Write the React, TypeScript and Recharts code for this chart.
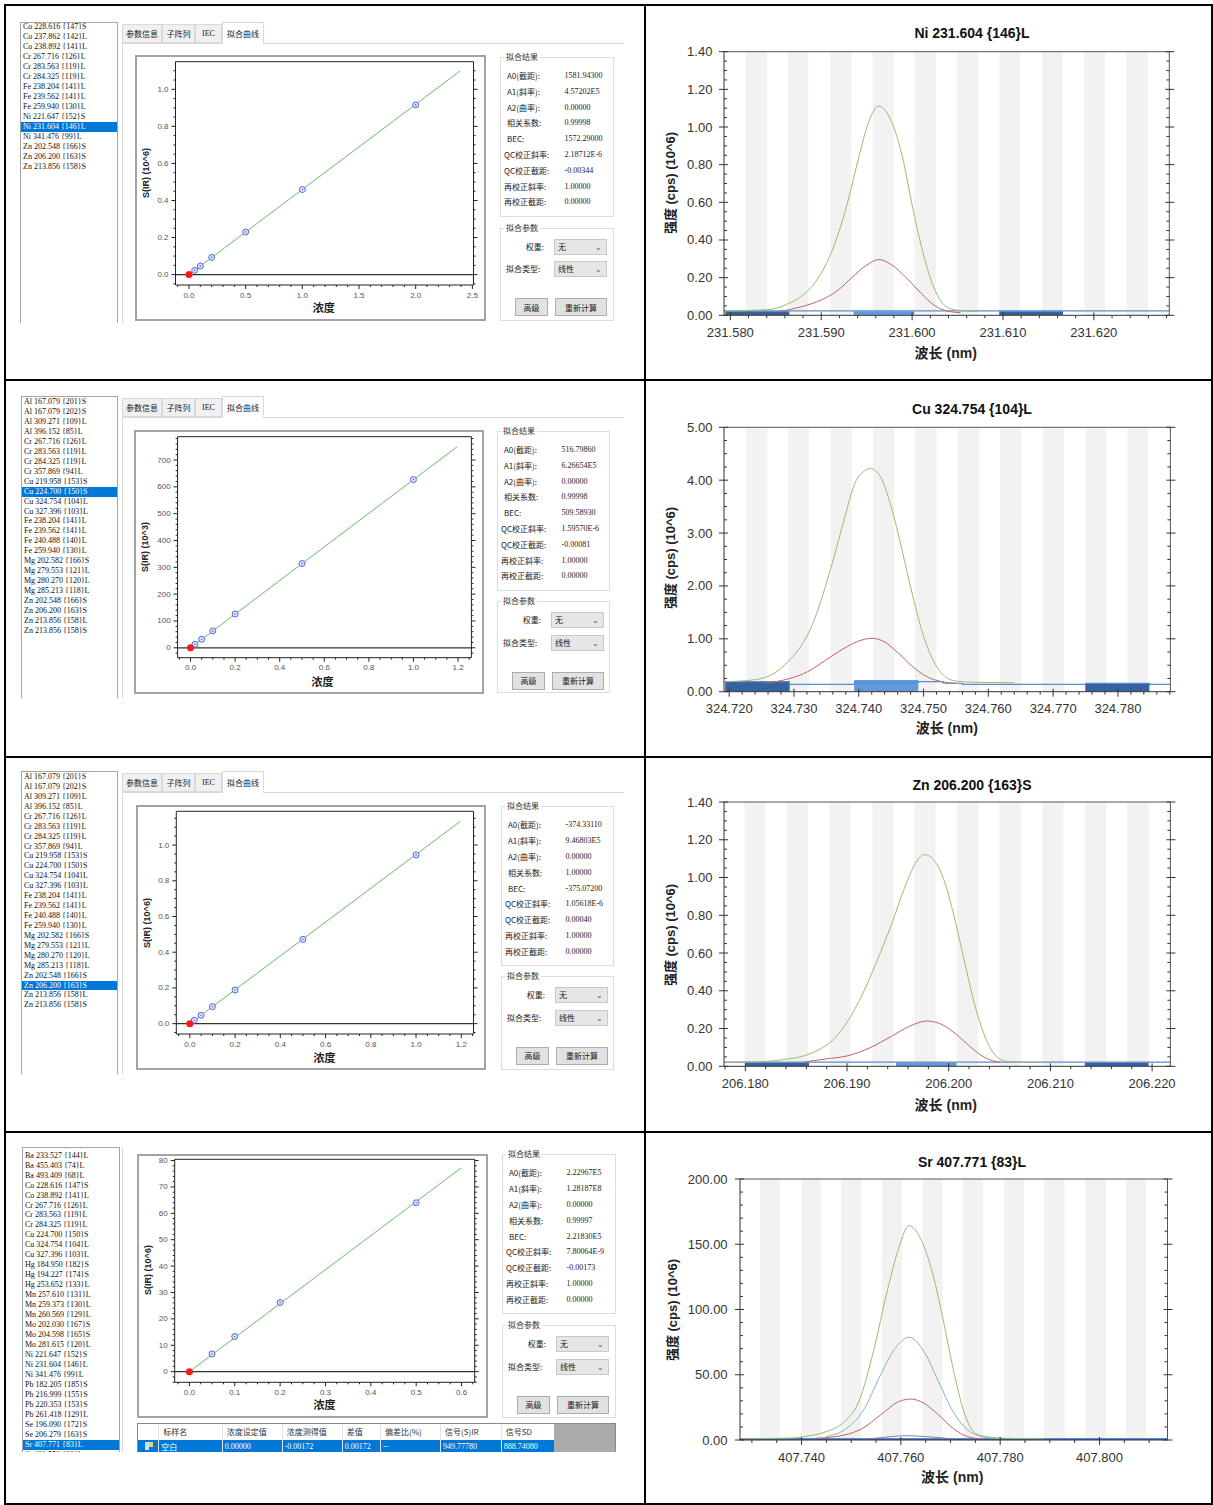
import React from 'react'
import {
    Line,
    LineChart,
    ReferenceArea,
    ReferenceLine,
    Scatter,
    ScatterChart,
    XAxis,
    YAxis
} from 'recharts'

const SANS = '"Liberation Sans", Arial, "Noto Sans CJK SC", sans-serif'
const SERIF = '"Liberation Serif", "Times New Roman", "Noto Sans CJK SC", serif'
const CJK = '"Noto Sans CJK SC", "Liberation Sans", sans-serif'

// ---------- element lists (left list boxes) ----------
const niList = [
    'Co 228.616 {147}S', 'Co 237.862 {142}L', 'Co 238.892 {141}L', 'Cr 267.716 {126}L',
    'Cr 283.563 {119}L', 'Cr 284.325 {119}L', 'Fe 238.204 {141}L', 'Fe 239.562 {141}L',
    'Fe 259.940 {130}L', 'Ni 221.647 {152}S', 'Ni 231.604 {146}L', 'Ni 341.476 {99}L',
    'Zn 202.548 {166}S', 'Zn 206.200 {163}S', 'Zn 213.856 {158}S'
]
const alList = [
    'Al 167.079 {201}S', 'Al 167.079 {202}S', 'Al 309.271 {109}L', 'Al 396.152 {85}L',
    'Cr 267.716 {126}L', 'Cr 283.563 {119}L', 'Cr 284.325 {119}L', 'Cr 357.869 {94}L',
    'Cu 219.958 {153}S', 'Cu 224.700 {150}S', 'Cu 324.754 {104}L', 'Cu 327.396 {103}L',
    'Fe 238.204 {141}L', 'Fe 239.562 {141}L', 'Fe 240.488 {140}L', 'Fe 259.940 {130}L',
    'Mg 202.582 {166}S', 'Mg 279.553 {121}L', 'Mg 280.270 {120}L', 'Mg 285.213 {118}L',
    'Zn 202.548 {166}S', 'Zn 206.200 {163}S', 'Zn 213.856 {158}L', 'Zn 213.856 {158}S'
]
const srList = [
    'Ba 230.424 {146}L', 'Ba 233.527 {144}L', 'Ba 455.403 {74}L', 'Ba 493.409 {68}L',
    'Co 228.616 {147}S', 'Co 238.892 {141}L', 'Cr 267.716 {126}L', 'Cr 283.563 {119}L',
    'Cr 284.325 {119}L', 'Cu 224.700 {150}S', 'Cu 324.754 {104}L', 'Cu 327.396 {103}L',
    'Hg 184.950 {182}S', 'Hg 194.227 {174}S', 'Hg 253.652 {133}L', 'Mn 257.610 {131}L',
    'Mn 259.373 {130}L', 'Mn 260.569 {129}L', 'Mo 202.030 {167}S', 'Mo 204.598 {165}S',
    'Mo 281.615 {120}L', 'Ni 221.647 {152}S', 'Ni 231.604 {146}L', 'Ni 341.476 {99}L',
    'Pb 182.205 {185}S', 'Pb 216.999 {155}S', 'Pb 220.353 {153}S', 'Pb 261.418 {129}L',
    'Se 196.090 {172}S', 'Se 206.279 {163}S', 'Sr 407.771 {83}L', 'Sr 421.552 {80}L'
]

// ---------- fit results ----------
const resultLabels = ['A0(截距):', 'A1(斜率):', 'A2(曲率):', '相关系数:', 'BEC:', 'QC校正斜率:', 'QC校正截距:', '再校正斜率:', '再校正截距:']
const niResults = ['1581.94300', '4.57202E5', '0.00000', '0.99998', '1572.29000', '2.18712E-6', '-0.00344', '1.00000', '0.00000']
const cuResults = ['516.79860', '6.26654E5', '0.00000', '0.99998', '509.58930', '1.59570E-6', '-0.00081', '1.00000', '0.00000']
const znResults = ['-374.33110', '9.46803E5', '0.00000', '1.00000', '-375.07200', '1.05618E-6', '0.00040', '1.00000', '0.00000']
const srResults = ['2.22967E5', '1.28187E8', '0.00000', '0.99997', '2.21830E5', '7.80064E-9', '-0.00173', '1.00000', '0.00000']

const tabNames = ['参数信息', '子阵列', 'IEC', '拟合曲线']
const tableHeaders = ['', '标样名', '浓度设定值', '浓度测得值', '差值', '偏差比(%)', '信号(S)IR', '信号SD']
const tableRow = ['', '空白', '0.00000', '-0.00172', '0.00172', '--', '949.77780', '888.74080']

// ---------- calibration curves [conc, signal] ----------
const niStd = [[0.05, 0.023], [0.1, 0.046], [0.2, 0.093], [0.5, 0.23], [1.0, 0.459], [2.0, 0.916]]
const niBlank = [[0, 0.0]]
const niFit = [[0, 0.0], [2.392, 1.099]]
const niCalX = [0, 0.5, 1.0, 1.5, 2.0, 2.5]
const niCalY = [0, 0.2, 0.4, 0.6, 0.8, 1.0]

const cuStd = [[0.02, 13], [0.05, 32], [0.1, 63], [0.2, 126], [0.5, 314], [1.0, 627]]
const cuBlank = [[0, 0]]
const cuFit = [[0, 0], [1.195, 749]]
const cuCalX = [0, 0.2, 0.4, 0.6, 0.8, 1.0, 1.2]
const cuCalY = [0, 100, 200, 300, 400, 500, 600, 700]

const znStd = [[0.02, 0.019], [0.05, 0.047], [0.1, 0.095], [0.2, 0.188], [0.5, 0.472], [1.0, 0.945]]
const znBlank = [[0, 0.0]]
const znFit = [[0, 0.0], [1.196, 1.133]]
const znCalX = [0, 0.2, 0.4, 0.6, 0.8, 1.0, 1.2]
const znCalY = [0, 0.2, 0.4, 0.6, 0.8, 1.0]

const srStd = [[0.05, 6.7], [0.1, 13.3], [0.2, 26.2], [0.5, 64.0]]
const srBlank = [[0, 0]]
const srFit = [[0, 0], [0.599, 77.2]]
const srCalX = [0, 0.1, 0.2, 0.3, 0.4, 0.5, 0.6]
const srCalY = [0, 10, 20, 30, 40, 50, 60, 70, 80]

// ---------- spectra [wavelength, intensity] ----------
const niGreen = [
    [231.57949, 0.023], [231.5842, 0.03], [231.58619, 0.058], [231.58778, 0.1], [231.58937, 0.177],
    [231.59057, 0.275], [231.59176, 0.416], [231.59296, 0.611], [231.59415, 0.842], [231.59515, 1.019],
    [231.59634, 1.111], [231.59774, 1.028], [231.59893, 0.842], [231.60012, 0.558], [231.60132, 0.31],
    [231.60252, 0.133], [231.60371, 0.048], [231.6049, 0.027], [231.60729, 0.021]
]
const niRed = [
    [231.5854, 0.02], [231.58778, 0.045], [231.59017, 0.085], [231.59176, 0.13], [231.59336, 0.2],
    [231.59495, 0.265], [231.59634, 0.296], [231.59774, 0.268], [231.59934, 0.2], [231.60093, 0.12],
    [231.60252, 0.05], [231.60411, 0.02], [231.60531, 0.014]
]
const niBands = [
    [231.58169, 231.58403], [231.58631, 231.58857], [231.591, 231.59332], [231.59566, 231.59798],
    [231.60024, 231.60263], [231.60495, 231.60729], [231.60959, 231.61191], [231.6143, 231.61657],
    [231.61896, 231.62122], [231.62357, 231.62597]
]
const niDarkBlocks = [[231.57944, 231.58648, 0.022], [231.60959, 231.6166, 0.022]]
const niLightBlocks = [[231.59356, 231.60024, 0.022]]
const niBase = [[231.5793, 0.024], [231.6283, 0.024]]
const niSpecX = [231.58, 231.59, 231.6, 231.61, 231.62]
const niSpecY = [0, 0.2, 0.4, 0.6, 0.8, 1.0, 1.2, 1.4]

const cuGreen = [
    [324.71938, 0.19], [324.72262, 0.21], [324.72543, 0.265], [324.72767, 0.41], [324.72934, 0.6],
    [324.73102, 0.85], [324.7327, 1.23], [324.73437, 1.8], [324.73605, 2.49], [324.73773, 3.25],
    [324.7394, 3.94], [324.74108, 4.19], [324.74181, 4.22], [324.74332, 4.07], [324.745, 3.5],
    [324.74667, 2.68], [324.74835, 1.8], [324.75003, 1.04], [324.75171, 0.54], [324.75338, 0.28],
    [324.75506, 0.2], [324.7573, 0.18], [324.76401, 0.17]
]
const cuRed = [
    [324.72543, 0.16], [324.72934, 0.25], [324.73213, 0.38], [324.73494, 0.6], [324.73773, 0.82],
    [324.74052, 0.98], [324.74208, 1.01], [324.74387, 0.95], [324.74611, 0.73], [324.74835, 0.47],
    [324.75059, 0.28], [324.75282, 0.19], [324.75506, 0.16]
]
const cuBands = [
    [324.72262, 324.72588], [324.72912, 324.7323], [324.73566, 324.7389], [324.74221, 324.74545],
    [324.74869, 324.75199], [324.75528, 324.75858], [324.76182, 324.76506], [324.76843, 324.77167],
    [324.77497, 324.77821], [324.78145, 324.78469]
]
const cuDarkBlocks = [[324.71938, 324.72934, 0.19], [324.77497, 324.78486, 0.16]]
const cuLightBlocks = [[324.73929, 324.74918, 0.22]]
const cuBase = [
    [324.7192, 0.19], [324.7293, 0.14], [324.7393, 0.17], [324.7492, 0.19], [324.753, 0.16],
    [324.756, 0.14], [324.775, 0.16], [324.7849, 0.14], [324.7881, 0.14]
]
const cuSpecX = [324.72, 324.73, 324.74, 324.75, 324.76, 324.77, 324.78]
const cuSpecY = [0, 1, 2, 3, 4, 5]

const znGreen = [
    [206.17803, 0.021], [206.18082, 0.023], [206.18367, 0.035], [206.1858, 0.056], [206.18723, 0.088],
    [206.18865, 0.141], [206.19008, 0.24], [206.1915, 0.38], [206.19293, 0.556], [206.19436, 0.75],
    [206.19578, 0.962], [206.19684, 1.086], [206.19763, 1.121], [206.19863, 1.086], [206.19934, 1.015],
    [206.20041, 0.82], [206.20147, 0.574], [206.20255, 0.327], [206.20362, 0.15], [206.20468, 0.053],
    [206.20575, 0.026], [206.20718, 0.021], [206.20932, 0.021]
]
const znRed = [
    [206.1858, 0.023], [206.18794, 0.039], [206.19008, 0.056], [206.19221, 0.097], [206.19436, 0.159],
    [206.19614, 0.212], [206.19785, 0.24], [206.19934, 0.221], [206.20077, 0.168], [206.20219, 0.1],
    [206.20362, 0.044], [206.20504, 0.021]
]
const znBands = [
    [206.17992, 206.182], [206.18409, 206.18616], [206.1883, 206.19036], [206.1925, 206.19457],
    [206.1966, 206.1987], [206.20081, 206.2029], [206.20497, 206.20707], [206.20917, 206.21128],
    [206.21338, 206.21548], [206.21754, 206.21965]
]
const znDarkBlocks = [[206.18, 206.18626, 0.02], [206.21338, 206.21965, 0.02]]
const znLightBlocks = [[206.19482, 206.20077, 0.02]]
const znBase = [[206.1779, 0.022], [206.2218, 0.022]]
const znSpecX = [206.18, 206.19, 206.2, 206.21, 206.22]
const znSpecY = [0, 0.2, 0.4, 0.6, 0.8, 1.0, 1.2, 1.4]

const srGreen = [
    [407.72781, 1.0], [407.73766, 1.5], [407.74131, 3.1], [407.74497, 6.4], [407.74862, 14.0],
    [407.75154, 29.4], [407.75446, 67.7], [407.75738, 116.2], [407.75956, 146.9], [407.76161, 164.2],
    [407.76395, 154.5], [407.76612, 131.5], [407.76832, 95.8], [407.77051, 54.9], [407.77269, 21.7],
    [407.77488, 5.6], [407.77708, 2.6], [407.78145, 1.3], [407.78876, 1.0]
]
const srTeal = [
    [407.74497, 2.6], [407.74862, 7.7], [407.75227, 21.7], [407.75591, 49.8], [407.75883, 70.2],
    [407.76161, 78.7], [407.76467, 67.7], [407.76759, 44.7], [407.77051, 21.7], [407.77343, 7.7],
    [407.77636, 2.6], [407.78, 1.0]
]
const srRed = [
    [407.74278, 1.3], [407.74862, 3.8], [407.75227, 8.9], [407.75591, 19.2], [407.75956, 29.4],
    [407.76197, 31.4], [407.76467, 28.1], [407.76759, 19.2], [407.77051, 8.9], [407.77343, 2.6],
    [407.77636, 0.8]
]
const srPurple = [[407.75227, 0.5], [407.75591, 1.8], [407.76103, 3.3], [407.76612, 2.3], [407.77051, 0.8]]
const srBands = [
    [407.73162, 407.73569], [407.73994, 407.74387], [407.74796, 407.75196], [407.75621, 407.76022],
    [407.76437, 407.7684], [407.77255, 407.77656], [407.78081, 407.78481], [407.78882, 407.79299],
    [407.79714, 407.80131], [407.80532, 407.80941]
]
const srDarkBlocks = [[407.7276, 407.8137, 1.2]]
const srLightBlocks: number[][] = []
const srBase = [[407.7276, 1.0], [407.8137, 1.0]]
const srSpecX = [407.74, 407.76, 407.78, 407.8]
const srSpecY = [0, 50, 100, 150, 200]

// ---------- helpers ----------
type Pt = { x: number; y: number }
const toPts = (rows: number[][]): Pt[] => rows.map(([x, y]) => ({ x, y }))

const withMinors = (majors: number[], div: number, lo: number, hi: number) => {
    const step = (majors[1] - majors[0]) / div
    const out: number[] = []
    const a = Math.ceil((lo - majors[0]) / step - 1e-6)
    const b = Math.floor((hi - majors[0]) / step + 1e-6)
    for (let i = a; i <= b; i++) out.push(+(majors[0] + i * step).toFixed(6))
    return out
}

type Side = 'left' | 'right' | 'top' | 'bottom'
interface TickLook {
    majOut: number
    majIn: number
    minOut: number
    minIn: number
    gap: number
    size: number
    color: string
    stroke: string
}

const makeTick = (side: Side, majors: number[], look: TickLook, fmt?: (v: number) => string) =>
    function AxisTick(props: any) {
        const { x, y, payload } = props
        const v = Number(payload.value)
        const major = majors.some((m) => Math.abs(m - v) < 1e-6)
        const o = major ? look.majOut : look.minOut
        const n = major ? look.majIn : look.minIn
        const seg =
            side === 'left'
                ? [x - o, y, x + n, y]
                : side === 'right'
                  ? [x + o, y, x - n, y]
                  : side === 'top'
                    ? [x, y - o, x, y + n]
                    : [x, y + o, x, y - n]
        return (
            <g>
                <line x1={seg[0]} y1={seg[1]} x2={seg[2]} y2={seg[3]} stroke={look.stroke} strokeWidth={1} />
                {major && fmt && side === 'left' && (
                    <text x={x - look.gap} y={y} textAnchor={'end'} dominantBaseline={'central'} fontSize={look.size} fill={look.color} fontFamily={SANS}>
                        {fmt(v)}
                    </text>
                )}
                {major && fmt && side === 'bottom' && (
                    <text x={x} y={y + look.gap} textAnchor={'middle'} dominantBaseline={'central'} fontSize={look.size} fill={look.color} fontFamily={SANS}>
                        {fmt(v)}
                    </text>
                )}
            </g>
        )
    }

const Txt: React.FC<{
    x: number
    y: number
    size: number
    weight?: number
    family?: string
    color?: string
    anchor?: 'start' | 'middle' | 'end'
    rotate?: boolean
    children: React.ReactNode
}> = ({ x, y, size, weight = 400, family = SANS, color = '#222', anchor = 'middle', rotate = false, children }) => (
    <div
        style={{
            position: 'absolute',
            left: x,
            top: y,
            transform: `translate(${anchor === 'middle' ? '-50%' : anchor === 'end' ? '-100%' : '0'}, -50%)${rotate ? ' rotate(-90deg)' : ''}`,
            fontSize: size,
            fontWeight: weight,
            fontFamily: family,
            color,
            whiteSpace: 'nowrap',
            lineHeight: 1
        }}
    >
        {children}
    </div>
)

const Box: React.FC<{ l: number; t: number; w: number; h: number; bg: string }> = ({ l, t, w, h, bg }) => (
    <div style={{ position: 'absolute', left: l, top: t, width: w, height: h, background: bg }} />
)

// ---------- spectrum chart ----------
interface SpecCfg {
    top: number
    h: number
    title: string
    titleY: number
    plot: { l: number; t: number; r: number; b: number }
    xDomain: [number, number]
    xMajors: number[]
    xDiv: number
    xDec: number
    yDomain: [number, number]
    yMajors: number[]
    yDiv: number
    curves: { data: number[][]; color: string }[]
    bands: number[][]
    dark: number[][]
    light: number[][]
    base: number[][]
    yTitleX: number
    yTitleY: number
    xTitleX: number
    xTitleY: number
    yGap: number
}

const GREEN = '#9dbb6e'
const RED = '#c46462'
const TEAL = '#86b3c2'
const PURPLE = '#8c7fa6'

const specY: TickLook = { majOut: 5, majIn: 4, minOut: 0, minIn: 3, gap: 12, size: 13, color: '#333', stroke: '#333' }
const specX: TickLook = { majOut: 5, majIn: 3, minOut: 3, minIn: 0, gap: 17, size: 13, color: '#333', stroke: '#333' }

const SpecChart: React.FC<{ c: SpecCfg }> = ({ c }) => {
    const boxL = 646
    const boxW = 566
    const YL = 30
    const YR = 6
    const XB = 24
    const XT = 6
    const margin = {
        left: c.plot.l - boxL - YL,
        right: boxL + boxW - c.plot.r - YR,
        top: c.plot.t - c.top - XT,
        bottom: c.top + c.h - c.plot.b - XB
    }
    const xTicks = withMinors(c.xMajors, c.xDiv, c.xDomain[0], c.xDomain[1])
    const yTicks = withMinors(c.yMajors, c.yDiv, c.yDomain[0], c.yDomain[1])
    const look = { ...specY, gap: c.yGap }
    return (
        <>
            <div style={{ position: 'absolute', left: boxL, top: c.top }}>
                <LineChart width={boxW} height={c.h} margin={margin}>
                    <XAxis xAxisId={'b'} dataKey={'x'} type={'number'} domain={c.xDomain} allowDataOverflow ticks={xTicks} interval={0}
                        height={XB} tickSize={0} tickMargin={0} tickLine={false} axisLine={{ stroke: '#333' }}
                        tick={makeTick('bottom', c.xMajors, specX, (v) => v.toFixed(c.xDec))} />
                    <XAxis xAxisId={'t'} orientation={'top'} type={'number'} domain={c.xDomain} allowDataOverflow ticks={xTicks} interval={0}
                        height={XT} tickSize={0} tickMargin={0} tickLine={false} axisLine={{ stroke: '#555' }}
                        tick={makeTick('top', c.xMajors, { ...specX, minOut: 0, minIn: 3 })} />
                    <YAxis yAxisId={'l'} dataKey={'y'} type={'number'} domain={c.yDomain} allowDataOverflow ticks={yTicks} interval={0}
                        width={YL} tickSize={0} tickMargin={0} tickLine={false} axisLine={{ stroke: '#333' }}
                        tick={makeTick('left', c.yMajors, look, (v) => v.toFixed(2))} />
                    <YAxis yAxisId={'r'} orientation={'right'} type={'number'} domain={c.yDomain} allowDataOverflow ticks={yTicks} interval={0}
                        width={YR} tickSize={0} tickMargin={0} tickLine={false} axisLine={{ stroke: '#555' }}
                        tick={makeTick('right', c.yMajors, look)} />
                    {c.bands.map(([a, b], i) => (
                        <ReferenceArea key={`band-${i}`} xAxisId={'b'} yAxisId={'l'} x1={a} x2={b} fill={'#f2f2f2'} fillOpacity={1} stroke={'none'} ifOverflow={'hidden'} />
                    ))}
                    {c.dark.map(([a, b, h], i) => (
                        <ReferenceArea key={`dark-${i}`} xAxisId={'b'} yAxisId={'l'} x1={a} x2={b} y1={0} y2={h} fill={'#36629f'} fillOpacity={1} stroke={'none'} ifOverflow={'hidden'} />
                    ))}
                    {c.light.map(([a, b, h], i) => (
                        <ReferenceArea key={`light-${i}`} xAxisId={'b'} yAxisId={'l'} x1={a} x2={b} y1={0} y2={h} fill={'#6199dc'} fillOpacity={1} stroke={'none'} ifOverflow={'hidden'} />
                    ))}
                    <Line xAxisId={'b'} yAxisId={'l'} data={toPts(c.base)} dataKey={'y'} type={'stepAfter'} stroke={'#5a8bd0'} strokeWidth={1.2} dot={false} isAnimationActive={false} />
                    {c.curves.map((cv, i) => (
                        <Line key={`curve-${i}`} xAxisId={'b'} yAxisId={'l'} data={toPts(cv.data)} dataKey={'y'} type={'monotone'} stroke={cv.color} strokeWidth={1} dot={false} isAnimationActive={false} />
                    ))}
                </LineChart>
            </div>
            <Txt x={972} y={c.titleY} size={14} weight={700} color={'#111'}>{c.title}</Txt>
            <Txt x={c.yTitleX} y={c.yTitleY} size={13} weight={700} color={'#222'} rotate>强度 (cps) (10^6)</Txt>
            <Txt x={c.xTitleX} y={c.xTitleY} size={14} weight={700} color={'#222'}>波长 (nm)</Txt>
        </>
    )
}

// ---------- calibration chart ----------
interface CalCfg {
    frame: { l: number; t: number; w: number; h: number }
    plot: { l: number; t: number; r: number; b: number }
    xDomain: [number, number]
    yDomain: [number, number]
    xMajors: number[]
    xDiv: number
    yMajors: number[]
    yDiv: number
    yDec: number
    std: number[][]
    blank: number[][]
    fit: number[][]
    yTitle: string
    yTitlePos: [number, number]
    xTitlePos: [number, number]
}

const calLook: TickLook = { majOut: 4, majIn: 0, minOut: 2, minIn: 0, gap: 7, size: 8, color: '#555', stroke: '#222' }

const HollowDot = (p: any) => (
    <g>
        <circle cx={p.cx} cy={p.cy} r={3} fill={'#dde2ff'} stroke={'#5466e6'} strokeWidth={1} />
        <circle cx={p.cx} cy={p.cy} r={0.8} fill={'#5466e6'} />
    </g>
)
const RedDot = (p: any) => <circle cx={p.cx} cy={p.cy} r={3.5} fill={'#ff1a1a'} />

const CalChart: React.FC<{ c: CalCfg }> = ({ c }) => {
    const il = c.frame.l + 2
    const it = c.frame.t + 2
    const iw = c.frame.w - 4
    const ih = c.frame.h - 4
    const YL = 20
    const YR = 2
    const XB = 8
    const XT = 2
    const margin = {
        left: c.plot.l - il - YL,
        right: il + iw - c.plot.r - YR,
        top: c.plot.t - it - XT,
        bottom: it + ih - c.plot.b - XB
    }
    const xTicks = withMinors(c.xMajors, c.xDiv, c.xDomain[0], c.xDomain[1])
    const yTicks = withMinors(c.yMajors, c.yDiv, c.yDomain[0], c.yDomain[1])
    return (
        <>
            <div
                style={{
                    position: 'absolute',
                    left: c.frame.l,
                    top: c.frame.t,
                    width: c.frame.w,
                    height: c.frame.h,
                    border: '2px solid #a3a3a3',
                    boxSizing: 'border-box',
                    background: '#fff'
                }}
            >
                <ScatterChart width={iw} height={ih} margin={margin}>
                    <XAxis xAxisId={'b'} dataKey={'x'} type={'number'} domain={c.xDomain} allowDataOverflow ticks={xTicks} interval={0}
                        height={XB} tickSize={0} tickMargin={0} tickLine={false} axisLine={{ stroke: '#222' }}
                        tick={makeTick('bottom', c.xMajors, { ...calLook, gap: 10 }, (v) => v.toFixed(1))} />
                    <XAxis xAxisId={'t'} orientation={'top'} type={'number'} domain={c.xDomain} allowDataOverflow ticks={xTicks} interval={0}
                        height={XT} tickSize={0} tickMargin={0} tickLine={false} axisLine={{ stroke: '#222' }}
                        tick={makeTick('top', c.xMajors, calLook)} />
                    <YAxis yAxisId={'l'} dataKey={'y'} type={'number'} domain={c.yDomain} allowDataOverflow ticks={yTicks} interval={0}
                        width={YL} tickSize={0} tickMargin={0} tickLine={false} axisLine={{ stroke: '#222' }}
                        tick={makeTick('left', c.yMajors, calLook, (v) => v.toFixed(c.yDec))} />
                    <YAxis yAxisId={'r'} orientation={'right'} type={'number'} domain={c.yDomain} allowDataOverflow ticks={yTicks} interval={0}
                        width={YR} tickSize={0} tickMargin={0} tickLine={false} axisLine={{ stroke: '#222' }}
                        tick={makeTick('right', c.yMajors, calLook)} />
                    <ReferenceLine xAxisId={'b'} yAxisId={'l'} y={0} stroke={'#333'} strokeWidth={1.2} />
                    <Scatter xAxisId={'b'} yAxisId={'l'} data={toPts(c.fit)} line={{ stroke: '#66bb66', strokeWidth: 1 }} shape={() => <g />} isAnimationActive={false} />
                    <Scatter xAxisId={'b'} yAxisId={'l'} data={toPts(c.std)} shape={HollowDot} isAnimationActive={false} />
                    <Scatter xAxisId={'b'} yAxisId={'l'} data={toPts(c.blank)} shape={RedDot} isAnimationActive={false} />
                </ScatterChart>
            </div>
            <Txt x={c.yTitlePos[0]} y={c.yTitlePos[1]} size={9} weight={700} color={'#222'} rotate>{c.yTitle}</Txt>
            <Txt x={c.xTitlePos[0]} y={c.xTitlePos[1]} size={11} weight={700} family={CJK} color={'#222'}>浓度</Txt>
        </>
    )
}

// ---------- software UI pieces ----------
const ListBox: React.FC<{ l: number; t: number; w: number; h: number; items: string[]; sel: number; first: number; step: number }> = ({ l, t, w, h, items, sel, first, step }) => (
    <div
        style={{
            position: 'absolute',
            left: l,
            top: t,
            width: w,
            height: h,
            borderLeft: '1px solid #a5a5a5',
            borderTop: '1px solid #a5a5a5',
            borderRight: '1px solid #a5a5a5',
            boxSizing: 'border-box',
            overflow: 'hidden',
            background: '#fff'
        }}
    >
        {items.map((it, i) => (
            <div
                key={`${it}-${i}`}
                style={{
                    position: 'absolute',
                    left: 0,
                    right: 0,
                    top: first - step / 2 - t - 1 + i * step,
                    height: step,
                    lineHeight: `${step}px`,
                    paddingLeft: 2,
                    fontSize: 8,
                    fontFamily: SERIF,
                    whiteSpace: 'nowrap',
                    background: i === sel ? '#0078d7' : 'transparent',
                    color: i === sel ? '#fff' : '#111'
                }}
            >
                {it}
            </div>
        ))}
    </div>
)

const Tabs: React.FC<{ t: number; bottom: number }> = ({ t, bottom }) => {
    const edges = [122, 162, 195, 222, 264]
    return (
        <>
            <Box l={122} t={t + 21} w={502} h={1} bg={'#d9d9d9'} />
            <Box l={122} t={t + 21} w={1} h={bottom - t - 21} bg={'#d9d9d9'} />
            {tabNames.map((name, i) => {
                const active = i === tabNames.length - 1
                return (
                    <div
                        key={name}
                        style={{
                            position: 'absolute',
                            left: edges[i],
                            top: active ? t : t + 2,
                            width: edges[i + 1] - edges[i],
                            height: active ? 22 : 19,
                            boxSizing: 'border-box',
                            border: '1px solid #d9d9d9',
                            borderBottom: active ? 'none' : '1px solid #d9d9d9',
                            background: active ? '#fff' : '#f0f0f0',
                            fontSize: 8,
                            fontFamily: name === 'IEC' ? SERIF : CJK,
                            color: '#222',
                            display: 'flex',
                            alignItems: 'center',
                            justifyContent: 'center'
                        }}
                    >
                        {name}
                    </div>
                )
            })}
        </>
    )
}

const GroupBox: React.FC<{ l: number; t: number; w: number; h: number; title: string }> = ({ l, t, w, h, title }) => (
    <>
        <div style={{ position: 'absolute', left: l, top: t, width: w, height: h, border: '1px solid #dedede', boxSizing: 'border-box' }} />
        <div style={{ position: 'absolute', left: l + 4, top: t - 5, padding: '0 2px', background: '#fff', fontSize: 8, lineHeight: '10px', fontFamily: CJK, color: '#333' }}>
            {title}
        </div>
    </>
)

const ResultPanel: React.FC<{ l: number; t: number; w: number; values: string[] }> = ({ l, t, w, values }) => (
    <>
        <GroupBox l={l} t={t} w={w} h={160} title={'拟合结果'} />
        {resultLabels.map((lab, i) => (
            <React.Fragment key={lab}>
                <Txt x={l + (i >= 5 ? 4 : 7)} y={t + 19.3 + i * 15.8} size={8} family={CJK} anchor={'start'}>{lab}</Txt>
                <Txt x={l + 64.5} y={t + 19.3 + i * 15.8} size={8} family={SERIF} anchor={'start'}>{values[i]}</Txt>
            </React.Fragment>
        ))}
    </>
)

const Select: React.FC<{ l: number; t: number; text: string }> = ({ l, t, text }) => (
    <div
        style={{
            position: 'absolute',
            left: l,
            top: t,
            width: 53,
            height: 16,
            boxSizing: 'border-box',
            border: '1px solid #c8c8c8',
            background: '#e6e6e6',
            fontSize: 8,
            fontFamily: CJK,
            color: '#222',
            lineHeight: '14px',
            paddingLeft: 3
        }}
    >
        {text}
        <span style={{ position: 'absolute', right: 4, top: 0, fontSize: 8, color: '#555' }}>⌄</span>
    </div>
)

const Button: React.FC<{ l: number; t: number; w: number; text: string }> = ({ l, t, w, text }) => (
    <div
        style={{
            position: 'absolute',
            left: l,
            top: t,
            width: w,
            height: 18,
            boxSizing: 'border-box',
            border: '1px solid #adadad',
            background: '#e1e1e1',
            fontSize: 8,
            fontFamily: CJK,
            color: '#222',
            display: 'flex',
            alignItems: 'center',
            justifyContent: 'center'
        }}
    >
        {text}
    </div>
)

const ParamPanel: React.FC<{ l: number; t: number; w: number; h: number }> = ({ l, t, w, h }) => (
    <>
        <GroupBox l={l} t={t} w={w} h={h} title={'拟合参数'} />
        <Txt x={l + 44} y={t + 19.3} size={8} family={CJK} anchor={'end'}>权重:</Txt>
        <Select l={l + 54} t={t + 11.3} text={'无'} />
        <Txt x={l + 6} y={t + 41.5} size={8} family={CJK} anchor={'start'}>拟合类型:</Txt>
        <Select l={l + 54} t={t + 33.5} text={'线性'} />
        <Button l={l + 15} t={t + 70.5} w={33} text={'高级'} />
        <Button l={l + 55} t={t + 70.5} w={52} text={'重新计算'} />
    </>
)

const StdTable: React.FC = () => {
    const edges = [137, 158.3, 221.7, 281.7, 341.7, 380, 440, 500.7, 554]
    return (
        <div style={{ position: 'absolute', left: 136.7, top: 1423, width: 479, height: 29, overflow: 'hidden', borderTop: '1px solid #8a8a8a', borderLeft: '1px solid #8a8a8a', borderRight: '1px solid #8a8a8a', boxSizing: 'border-box', background: '#fff' }}>
            <Box l={554 - 137.7} t={0} w={80} h={30} bg={'#ababab'} />
            <Box l={0} t={16} w={554 - 137.7} h={14} bg={'#0078d7'} />
            {edges.slice(1, -1).map((e) => (
                <Box key={`sep-${e}`} l={e - 137.7} t={0} w={1} h={30} bg={'#e3e3e3'} />
            ))}
            <Box l={7} t={18} w={4} h={8} bg={'#cfe3f7'} />
            <Box l={11} t={18} w={4} h={5} bg={'#f2d66b'} />
            {tableHeaders.map((hd, i) =>
                i === 0 ? null : (
                    <Txt key={`h-${hd}`} x={edges[i] - 137.7 + 5} y={8} size={8} family={CJK} anchor={'start'} color={'#333'}>{hd}</Txt>
                )
            )}
            {tableRow.map((cell, i) =>
                i === 0 ? null : (
                    <Txt key={`c-${i}`} x={edges[i] - 137.7 + 3} y={23} size={8} family={i === 1 ? CJK : SERIF} anchor={'start'} color={'#fff'}>{cell}</Txt>
                )
            )}
        </div>
    )
}

// ---------- row configurations ----------
const calRows: CalCfg[] = [
    {
        frame: { l: 135, t: 55, w: 351, h: 266 }, plot: { l: 175.5, t: 61.7, r: 473.5, b: 285 },
        xDomain: [-0.119, 2.51], yDomain: [-0.056, 1.149], xMajors: niCalX, xDiv: 5, yMajors: niCalY, yDiv: 4, yDec: 1,
        std: niStd, blank: niBlank, fit: niFit, yTitle: 'S(IR) (10^6)', yTitlePos: [146, 173.3], xTitlePos: [323.7, 307.3]
    },
    {
        frame: { l: 134, t: 430, w: 350, h: 264 }, plot: { l: 177.6, t: 436.7, r: 471.4, b: 657.7 },
        xDomain: [-0.058, 1.26], yDomain: [-37, 787], xMajors: cuCalX, xDiv: 4, yMajors: cuCalY, yDiv: 5, yDec: 0,
        std: cuStd, blank: cuBlank, fit: cuFit, yTitle: 'S(IR) (10^3)', yTitlePos: [145, 546.7], xTitlePos: [322.4, 681]
    },
    {
        frame: { l: 136, t: 805, w: 350, h: 265 }, plot: { l: 176.3, t: 811.3, r: 473.5, b: 1034 },
        xDomain: [-0.0597, 1.254], yDomain: [-0.058, 1.189], xMajors: znCalX, xDiv: 4, yMajors: znCalY, yDiv: 4, yDec: 1,
        std: znStd, blank: znBlank, fit: znFit, yTitle: 'S(IR) (10^6)', yTitlePos: [147, 923], xTitlePos: [324.5, 1057]
    },
    {
        frame: { l: 137, t: 1154, w: 351, h: 264 }, plot: { l: 174.7, t: 1159.3, r: 474.7, b: 1382.3 },
        xDomain: [-0.0324, 0.629], yDomain: [-4.04, 80.47], xMajors: srCalX, xDiv: 4, yMajors: srCalY, yDiv: 5, yDec: 0,
        std: srStd, blank: srBlank, fit: srFit, yTitle: 'S(IR) (10^6)', yTitlePos: [147.8, 1270], xTitlePos: [324.5, 1404.3]
    }
]

const specRows: SpecCfg[] = [
    {
        top: 6, h: 373, title: 'Ni 231.604 {146}L', titleY: 33.3, plot: { l: 724, t: 51.7, r: 1169.3, b: 315.3 },
        xDomain: [231.5793, 231.6283], xMajors: niSpecX, xDiv: 5, xDec: 3, yDomain: [0, 1.4], yMajors: niSpecY, yDiv: 4,
        curves: [{ data: niGreen, color: GREEN }, { data: niRed, color: RED }],
        bands: niBands, dark: niDarkBlocks, light: niLightBlocks, base: niBase,
        yTitleX: 670.4, yTitleY: 183.3, xTitleX: 945.7, xTitleY: 353.3, yGap: 11.6
    },
    {
        top: 381, h: 375, title: 'Cu 324.754 {104}L', titleY: 409.3, plot: { l: 724, t: 427.3, r: 1170.4, b: 691.7 },
        xDomain: [324.7192, 324.7881], xMajors: cuSpecX, xDiv: 5, xDec: 3, yDomain: [0, 5], yMajors: cuSpecY, yDiv: 4,
        curves: [{ data: cuGreen, color: GREEN }, { data: cuRed, color: RED }],
        bands: cuBands, dark: cuDarkBlocks, light: cuLightBlocks, base: cuBase,
        yTitleX: 670, yTitleY: 558, xTitleX: 946.8, xTitleY: 728.3, yGap: 11.6
    },
    {
        top: 758, h: 373, title: 'Zn 206.200 {163}S', titleY: 784.7, plot: { l: 724, t: 802, r: 1170.4, b: 1066.3 },
        xDomain: [206.1779, 206.2218], xMajors: znSpecX, xDiv: 5, xDec: 3, yDomain: [0, 1.4], yMajors: znSpecY, yDiv: 4,
        curves: [{ data: znGreen, color: GREEN }, { data: znRed, color: RED }],
        bands: znBands, dark: znDarkBlocks, light: znLightBlocks, base: znBase,
        yTitleX: 670, yTitleY: 934.7, xTitleX: 945.7, xTitleY: 1104.7, yGap: 11.6
    },
    {
        top: 1133, h: 370, title: 'Sr 407.771 {83}L', titleY: 1161.7, plot: { l: 740, t: 1179, r: 1167.5, b: 1440 },
        xDomain: [407.7276, 407.8137], xMajors: srSpecX, xDiv: 4, xDec: 3, yDomain: [0, 200], yMajors: srSpecY, yDiv: 5,
        curves: [{ data: srGreen, color: GREEN }, { data: srTeal, color: TEAL }, { data: srRed, color: RED }, { data: srPurple, color: PURPLE }],
        bands: srBands, dark: srDarkBlocks, light: srLightBlocks, base: srBase,
        yTitleX: 672, yTitleY: 1310, xTitleX: 952.2, xTitleY: 1476.7, yGap: 12.4
    }
]

const listRows = [
    { l: 20, t: 21.7, w: 98, h: 301.3, items: niList, sel: 10, first: 27.3, step: 10 },
    { l: 21, t: 396, w: 97, h: 302, items: alList, sel: 9, first: 402.3, step: 9.93 },
    { l: 21, t: 771, w: 97, h: 303, items: alList, sel: 21, first: 777, step: 9.93 },
    { l: 22, t: 1146.7, w: 97.6, h: 305, items: srList, sel: 30, first: 1145.7, step: 9.97 }
]

const panelRows = [
    { res: { l: 500, t: 56.7, w: 114 }, par: { l: 500, t: 227.7, w: 114, h: 93 }, values: niResults },
    { res: { l: 497, t: 430.7, w: 113 }, par: { l: 497, t: 601, w: 113, h: 92 }, values: cuResults },
    { res: { l: 501, t: 806, w: 113 }, par: { l: 501, t: 976, w: 113, h: 94 }, values: znResults },
    { res: { l: 502, t: 1154, w: 113.5 }, par: { l: 502, t: 1325, w: 113.5, h: 92.7 }, values: srResults }
]

const tabRows = [
    { t: 21.7, bottom: 323 },
    { t: 396, bottom: 698 },
    { t: 771, bottom: 1074 }
]

const App: React.FC = () => (
    <div style={{ position: 'absolute', left: 0, top: 0, width: 1213, height: 1505, background: '#fff', overflow: 'hidden', fontFamily: SANS }}>
        {listRows.map((r, i) => (
            <ListBox key={`list-${i}`} {...r} />
        ))}
        {tabRows.map((r, i) => (
            <Tabs key={`tabs-${i}`} t={r.t} bottom={r.bottom} />
        ))}
        <Box l={122} t={1146.7} w={1} h={305} bg={'#d9d9d9'} />
        {calRows.map((c, i) => (
            <CalChart key={`cal-${i}`} c={c} />
        ))}
        {panelRows.map((p, i) => (
            <React.Fragment key={`panel-${i}`}>
                <ResultPanel l={p.res.l} t={p.res.t} w={p.res.w} values={p.values} />
                <ParamPanel l={p.par.l} t={p.par.t} w={p.par.w} h={p.par.h} />
            </React.Fragment>
        ))}
        <StdTable />
        {specRows.map((c, i) => (
            <SpecChart key={`spec-${i}`} c={c} />
        ))}
        {/* outer grid */}
        <Box l={4} t={4} w={1209} h={2} bg={'#000'} />
        <Box l={4} t={1503} w={1209} h={2} bg={'#000'} />
        <Box l={4} t={4} w={2} h={1501} bg={'#000'} />
        <Box l={1211} t={4} w={2} h={1501} bg={'#000'} />
        <Box l={644} t={4} w={2} h={1501} bg={'#000'} />
        <Box l={4} t={379} w={1209} h={2} bg={'#000'} />
        <Box l={4} t={756} w={1209} h={2} bg={'#000'} />
        <Box l={4} t={1131} w={1209} h={2} bg={'#000'} />
    </div>
)

export default App
